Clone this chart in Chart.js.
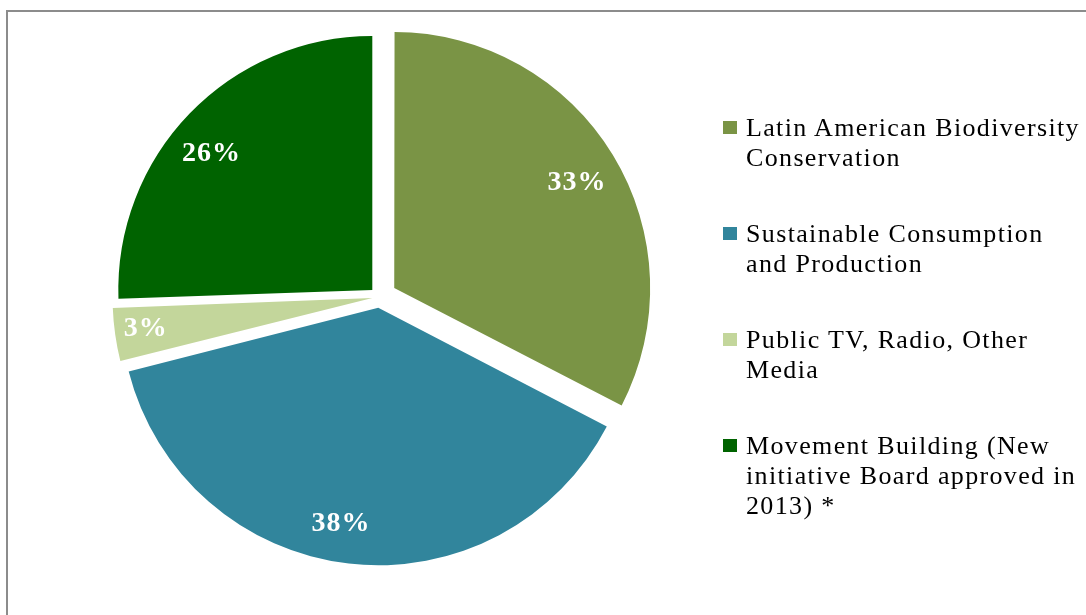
<!DOCTYPE html>
<html>
<head>
<meta charset="utf-8">
<script src="https://cdn.jsdelivr.net/npm/chart.js@4.4.1/dist/chart.umd.min.js"></script>
<style>
  html, body { margin: 0; padding: 0; background: #ffffff; overflow: hidden; }
  #wrap { position: relative; width: 1086px; height: 615px; }
  #frame { position: absolute; left: 6px; top: 10px; width: 1200px; height: 800px;
           border-top: 2px solid #8c8c8c; border-left: 2px solid #8c8c8c; }
  #c { position: absolute; left: 0; top: 0; }
  .item { position: absolute; left: 723px; display: flex; align-items: flex-start; }
  .sw { width: 14px; height: 13px; margin-top: 8px; margin-right: 9px; flex: none; }
  .txt { font-family: "Liberation Serif", serif; font-size: 26px; line-height: 30px;
         letter-spacing: 1.35px; color: #000; white-space: pre; }
</style>
</head>
<body>
<div id="wrap">
  <div id="frame"></div>
  <canvas id="c" width="1086" height="615"></canvas>
  <div id="legend"></div>
</div>
<script>
// ---- data ----
const categories = [
  'Latin American Biodiversity\nConservation',
  'Sustainable Consumption\nand Production',
  'Public TV, Radio, Other\nMedia',
  'Movement Building (New\ninitiative Board approved in\n2013) *'
];
const shares = [32.6, 38.45, 3.4, 25.55];
const colors = ['#7A9445', '#31859C', '#C3D69B', '#006300'];

// ---- styling (not data) ----
const explode = [69, 43, 29, 40];          // Chart.js arc offsets
const labelFrac = [0.83, 0.865, 0.90, 0.83];
const labelNudgeDeg = [1.4, 3.2, 0.3, -3.7];

const total = shares.reduce((a, b) => a + b, 0);
const pctLabels = shares.map(v => Math.round(v / total * 100) + '%');

const labelPlugin = {
  id: 'sliceLabels',
  afterDatasetsDraw(chart) {
    const ctx = chart.ctx;
    const meta = chart.getDatasetMeta(0);
    ctx.save();
    ctx.font = 'bold 28px "Liberation Serif", serif';
    ctx.fillStyle = '#ffffff';
    ctx.textAlign = 'center';
    ctx.textBaseline = 'middle';
    try { ctx.letterSpacing = '1px'; } catch (e) {}
    meta.data.forEach((arc, i) => {
      const p = arc.getProps(['x', 'y', 'startAngle', 'endAngle', 'outerRadius'], true);
      const mid = (p.startAngle + p.endAngle) / 2;
      const t = explode[i] / 4;
      const bx = p.x + Math.cos(mid) * t;
      const by = p.y + Math.sin(mid) * t;
      const a = mid + labelNudgeDeg[i] * Math.PI / 180;
      const r = p.outerRadius * labelFrac[i];
      ctx.fillText(pctLabels[i], bx + Math.cos(a) * r, by + Math.sin(a) * r);
    });
    ctx.restore();
  }
};

new Chart(document.getElementById('c'), {
  type: 'pie',
  data: {
    labels: categories.map(s => s.replace(/\n/g, ' ')),
    datasets: [{
      data: shares,
      backgroundColor: colors,
      borderWidth: 0,
      offset: explode,
      radius: 254
    }]
  },
  options: {
    responsive: false,
    devicePixelRatio: 1,
    animation: false,
    layout: { padding: { left: 0, top: 0, right: 327, bottom: 21 } },
    plugins: { legend: { display: false }, tooltip: { enabled: false } }
  },
  plugins: [labelPlugin]
});

// HTML legend built from the data arrays
const legend = document.getElementById('legend');
categories.forEach((name, i) => {
  const item = document.createElement('div');
  item.className = 'item';
  item.style.top = (113 + i * 106) + 'px';
  const sw = document.createElement('div');
  sw.className = 'sw';
  sw.style.background = colors[i];
  const tx = document.createElement('div');
  tx.className = 'txt';
  tx.textContent = name;
  item.appendChild(sw);
  item.appendChild(tx);
  legend.appendChild(item);
});
</script>
</body>
</html>
